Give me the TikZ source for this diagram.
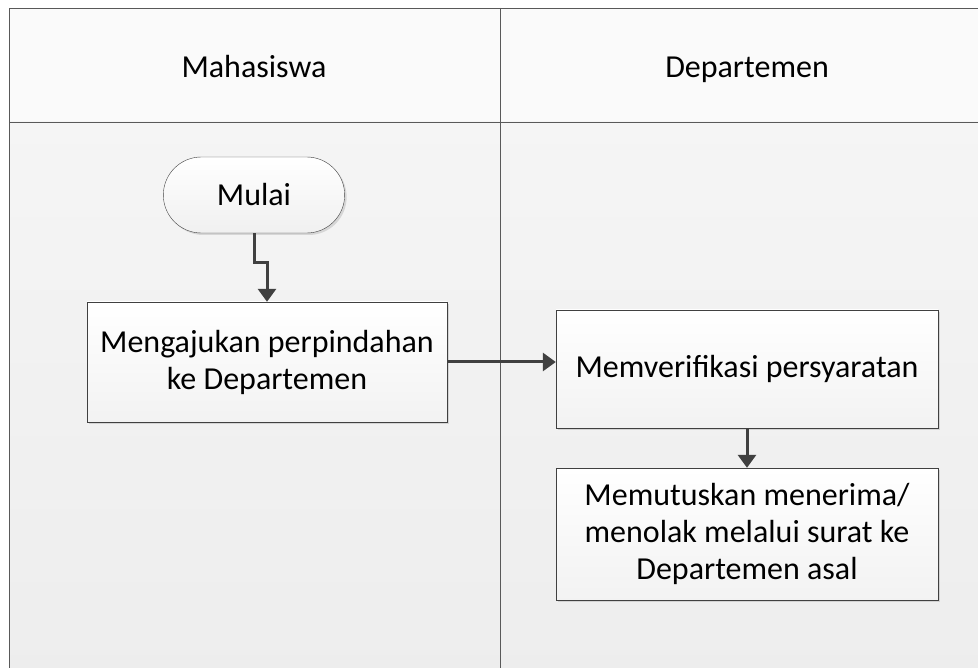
\documentclass[tikz,border=0pt]{standalone}
\usepackage{fontspec}
\setmainfont{Carlito}
\usetikzlibrary{shapes.misc,arrows.meta,shadows}

\begin{document}
\begin{tikzpicture}[x=1pt,y=-1pt,
  teks/.style={font=\fontsize{32}{37}\selectfont,align=center},
  terminal/.style={teks,rounded rectangle,draw=black!75,top color=white,bottom color=black!6,
    minimum width=188pt,minimum height=76pt,
    drop shadow={shadow xshift=2pt,shadow yshift=-2pt,opacity=0.25}},
  proses/.style={teks,rectangle,draw=black!75,top color=white,bottom color=black!5,
    drop shadow={shadow xshift=2pt,shadow yshift=-2pt,opacity=0.25}},
  panah/.style={draw=black!75,line width=3pt,-{Triangle[length=13pt,width=18pt]}}]
\useasboundingbox (0,0) rectangle (978,668);
\clip (0,0) rectangle (978,668);
% lajur
\fill[black!2] (9,8) rectangle (994,122);
\fill[top color=black!4,bottom color=black!7] (9,122) rectangle (994,680);
\draw[black!65] (9,8) rectangle (994,680);
\draw[black!65] (9,122) -- (994,122);
\draw[black!65] (500,8) -- (500,680);
\node[teks,anchor=base] (mhs) at (254,78) {Mahasiswa};
\node[teks,anchor=base] (dep) at (747,78) {Departemen};

% langkah
\node[terminal] (mulai) at (254,195) {Mulai};
\node[proses,minimum width=360pt,minimum height=120pt] (aju) at (267,362) {Mengajukan perpindahan\\ke Departemen};
\node[proses,minimum width=382pt,minimum height=118pt] (verif) at (747,369) {Memverifikasi persyaratan};
\node[proses,minimum width=382pt,minimum height=132pt] (putus) at (747,534) {Memutuskan menerima/\\menolak melalui surat ke\\Departemen asal};

\draw[panah] (mulai.south) -- ++(0,29) -| (aju.north);
\draw[panah] (aju.east) -- (aju.east -| verif.west);
\draw[panah] (verif.south) -- (putus.north);
\end{tikzpicture}
\end{document}
